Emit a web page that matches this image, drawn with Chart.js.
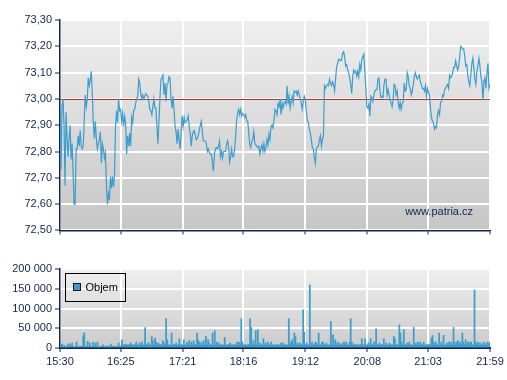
<!DOCTYPE html>
<html><head><meta charset="utf-8">
<script src="https://cdn.jsdelivr.net/npm/chart.js@4.4.1/dist/chart.umd.min.js"></script>
<style>
html,body{margin:0;padding:0;background:#fff;width:507px;height:380px;overflow:hidden}
#top{position:absolute;left:0;top:0}
#bot{position:absolute;left:0;top:245px}
</style></head><body>
<canvas id="top" width="507" height="240"></canvas>
<canvas id="bot" width="507" height="135"></canvas>
<script>
// ---- data ----
const timeLabels = ['15:30','16:25','17:21','18:16','19:12','20:08','21:03','21:59'];
const referencePrice = 73.00;
const priceRange = [72.50, 73.30];
const volumeRange = [0, 200000];
const watermark = 'www.patria.cz';
const volumeLabel = 'Objem';

const price = [
72.96,72.73,72.97,73.00,72.90,72.67,72.95,72.85,72.78,72.85,
72.90,72.77,72.83,72.72,72.60,72.60,72.81,72.81,72.86,72.82,
72.88,72.82,72.81,72.82,72.915,73.015,72.97,73.00,73.08,73.05,
73.07,73.105,73.02,72.91,72.85,72.915,72.85,72.81,72.83,72.845,
72.875,72.755,72.83,72.81,72.775,72.795,72.675,72.60,72.64,72.615,
72.705,72.66,72.705,72.665,72.71,72.895,72.955,72.91,73.00,72.955,
72.96,72.915,72.945,72.895,72.935,72.91,72.79,72.86,72.82,72.87,
72.82,72.93,72.91,72.955,72.96,72.985,73.00,73.01,73.075,73.06,
73.02,73.00,73.015,73.00,73.01,73.02,73.015,73.01,72.99,72.96,
72.955,72.94,72.97,73.00,72.965,72.965,72.895,72.83,72.91,73.00,
73.075,73.08,73.09,73.015,
73.06,72.99,73.055,73.06,73.085,73.08,73.00,72.965,73.01,72.96,
72.895,72.875,72.83,72.885,72.845,72.81,72.875,72.935,72.895,72.93,
72.91,72.915,72.92,72.935,72.895,72.87,72.82,72.86,72.875,72.88,
72.86,72.845,72.85,72.86,72.88,72.90,72.915,72.875,72.84,72.84,
72.84,72.83,72.80,72.81,72.795,72.79,72.79,72.755,72.725,72.79,
72.81,72.815,72.81,72.82,72.84,72.78,72.80,72.775,72.80,72.80,
72.80,72.825,72.84,72.82,72.76,72.78,72.81,72.78,72.78,72.81,
72.86,72.92,72.945,72.96,72.94,72.96,72.935,72.945,72.94,72.93,
72.94,72.915,72.915,72.87,72.825,72.815,72.84,72.845,72.875,72.83,
72.825,72.82,72.815,72.82,72.79,72.81,72.825,72.80,72.83,72.80,
72.815,72.845,72.825,72.865,72.845,72.895,72.90,
72.89,72.92,72.96,72.955,72.94,72.98,72.97,73.00,72.94,72.985,
72.965,72.985,72.99,72.98,73.05,72.98,73.01,72.965,72.99,73.01,
72.985,73.03,73.025,73.03,73.015,73.03,73.015,73.00,72.985,72.96,
72.99,73.01,73.00,72.955,72.92,72.91,72.885,72.87,72.845,72.815,
72.81,72.775,72.755,72.81,72.82,72.82,72.845,72.86,72.82,72.845,
72.86,73.05,73.04,73.05,73.055,73.05,73.075,73.06,73.05,73.065,
73.055,73.03,73.075,73.12,73.135,73.15,73.15,73.145,73.15,73.175,
73.18,73.16,73.125,73.13,73.11,73.10,73.08,73.055,73.02,73.085,
73.11,73.10,73.105,73.085,73.105,73.085,73.13,73.11,73.15,73.16,
73.17,73.105,73.04,72.97,72.965,72.98,72.935,73.01,73.005,72.99,
73.015,73.03,73.035,73.035,73.075,73.08,73.03,73.005,
73.01,73.005,73.055,73.075,73.075,73.015,73.035,73.015,72.995,72.985,
72.97,72.995,73.055,73.05,73.015,73.03,72.99,72.965,72.985,72.96,
72.98,72.99,73.06,73.03,73.035,73.10,73.085,73.05,73.04,73.015,
73.03,73.055,73.085,73.10,73.085,73.075,73.085,73.09,73.065,73.055,
73.04,73.04,73.03,73.05,73.01,73.04,73.025,73.015,72.965,72.93,
72.915,72.91,72.885,72.895,72.89,72.94,72.955,72.94,72.985,72.99,
73.015,73.01,73.035,73.04,73.05,73.055,73.04,73.09,73.08,73.085,
73.10,73.12,73.12,73.145,73.125,73.11,73.125,73.16,73.20,73.195,
73.19,73.19,73.16,73.125,73.13,73.09,73.065,73.05,73.09,73.135,
73.155,73.12,73.075,73.055,73.105,73.125,73.155,73.125,73.085,73.065,
72.995,73.065,73.08,73.04,73.10,73.135,73.04,73.055
];

// one bar per minute, 15:30 .. 21:59
const volume = [
9000,8000,10000,3000,6700,2000,3500,10000,2500,10000,
4000,12600,3000,2000,4000,15000,3000,2500,5000,3000,
4000,31000,38600,3000,5000,16800,3000,12600,2500,4000,
15000,3000,12600,4000,15000,2000,3000,5000,2500,8000,
3000,4500,2000,6000,3500,2500,10000,3000,4000,2500,
5000,3000,4000,12600,3500,5000,21000,8000,7500,9000,
7000,8500,7500,8000,12600,9000,7000,8000,7500,15000,
8000,7500,12600,8500,15000,7000,8000,52000,9000,7500,
14000,8000,7000,29000,18500,8000,25000,15000,7500,12600,
8000,9000,7000,18500,12600,8000,74000,21000,7500,8000,
7000,37800,8000,7500,9000,12600,7000,8000,23500,7500,
8500,7000,21000,8000,7500,15000,8000,18500,7000,15000,
8000,18500,7500,8500,37800,21000,15000,7000,15000,8000,
18500,7500,29400,8000,21000,12600,7000,8500,37800,7500,
43700,8000,15000,7500,12600,8000,7000,8500,7500,26900,
8000,7000,8500,7500,12600,8000,7000,9000,7500,8000,
15000,7500,15000,8000,74000,15000,7000,8500,7500,8000,
7000,9000,74000,52000,8000,18500,7500,43700,8000,46000,
7500,12600,8000,7000,23500,8500,12600,7500,15000,8000,
7000,15000,8500,7500,8000,7000,9000,7500,8000,7000,
12600,8000,12600,7500,8500,7000,8000,74000,7500,15000,
21000,8000,37800,29400,7500,12600,8000,12600,7000,8500,
96600,40300,8000,12600,7500,8000,159600,7000,15000,8500,
7500,15000,12600,8000,37800,7500,8000,15000,15000,7000,
8500,12600,7500,8000,7000,67200,8000,33600,7500,21000,
8000,15000,7000,12600,8500,7500,12600,15000,8000,15000,
7500,8000,15000,74000,15000,7000,10000,8000,7500,8500,
8000,7000,9000,23500,7500,8000,23500,7000,8500,12600,
8000,23500,7500,8000,15000,7000,48700,8500,7500,12600,
8000,7000,9000,23500,7500,12600,8000,7000,12600,8500,
7500,8000,29400,23500,7000,8500,8000,58800,37800,15000,
7500,46200,8000,7000,12600,8500,15000,7500,8000,7000,
52000,8000,12600,7500,15000,8000,15000,7000,8500,15000,
7500,8000,7000,9000,7500,8000,25200,31900,15000,7500,
15000,8000,7000,37800,8500,15000,7500,31900,8000,7000,
12600,8000,15000,7500,15000,8000,52000,15000,7000,15000,
18500,8000,15000,7500,37800,15000,8000,21000,7500,15000,
8000,15000,15000,7000,8500,147000,15000,8000,15000,7500,
12600,8000,7000,15000,8500,12600,7500,15000,8000,15000
];

// ---- helpers ----
const toMin = s => { const [h, m] = s.split(':').map(Number); return h * 60 + m; };
const openMin = toMin(timeLabels[0]);
const tickMinutes = timeLabels.map(t => toMin(t) - openMin);
const sessionLen = tickMinutes[tickMinutes.length - 1];
const fmtPrice = v => v.toFixed(2).replace('.', ',');
const fmtVol = v => String(Math.round(v)).replace(/\B(?=(\d{3})+(?!\d))/g, ' ');

const NAVY = '#13244f';
const BLUE = '#3d9dcc';
const FONT = "'Liberation Sans', Arial, sans-serif";
Chart.defaults.font.family = FONT;
Chart.defaults.font.size = 11;
Chart.defaults.color = NAVY;

const bgPlugin = {
  id: 'bg',
  beforeDraw(chart, args, opts) {
    const { ctx, chartArea: a } = chart;
    const g = ctx.createLinearGradient(0, a.top, 0, a.bottom);
    g.addColorStop(0, opts.top); g.addColorStop(1, opts.bottom);
    ctx.save(); ctx.fillStyle = g;
    ctx.fillRect(a.left, a.top, a.right - a.left, a.bottom - a.top);
    ctx.restore();
  }
};
const refPlugin = {
  id: 'ref',
  beforeDatasetsDraw(chart) {
    const { ctx, chartArea: a } = chart;
    const y = Math.round(chart.scales.y.getPixelForValue(referencePrice)) + 0.5;
    ctx.save(); ctx.strokeStyle = '#b8302c'; ctx.lineWidth = 1;
    ctx.beginPath(); ctx.moveTo(a.left, y); ctx.lineTo(a.right, y); ctx.stroke();
    ctx.restore();
  }
};
const markPlugin = {
  id: 'mark',
  afterDraw(chart) {
    const { ctx, chartArea: a } = chart;
    ctx.save(); ctx.fillStyle = NAVY; ctx.font = '11px ' + FONT;
    ctx.textAlign = 'right'; ctx.textBaseline = 'middle';
    ctx.fillText(watermark, a.right - 17, a.bottom - 18);
    ctx.restore();
  }
};
const legendPlugin = {
  id: 'boxLegend',
  afterDraw(chart) {
    const { ctx, chartArea: a } = chart;
    const x = a.left + 5.5, y = a.top + 4.5, w = 60, h = 28;
    ctx.save();
    ctx.strokeStyle = '#000'; ctx.lineWidth = 1;
    ctx.strokeRect(x, y, w, h);
    ctx.fillStyle = chart.data.datasets[0].backgroundColor;
    ctx.fillRect(x + 8, y + 10, 7, 7);
    ctx.strokeStyle = '#1a1a1a';
    ctx.strokeRect(x + 8, y + 10, 7, 7);
    ctx.fillStyle = '#000'; ctx.font = '11px ' + FONT;
    ctx.textAlign = 'left'; ctx.textBaseline = 'middle';
    ctx.fillText(chart.data.datasets[0].label, x + 20, y + 14);
    ctx.restore();
  }
};

function xScale(showLabels, borderW, bottomH) {
  return {
    type: 'linear', min: 0, max: sessionLen, offset: false,
    afterBuildTicks: s => { s.ticks = tickMinutes.map(v => ({ value: v })); },
    afterFit: s => { s.height = bottomH; },
    ticks: { display: showLabels, autoSkip: false, maxRotation: 0, padding: 3,
             callback: v => timeLabels[tickMinutes.indexOf(v)] },
    grid: { offset: false, color: '#ffffff', lineWidth: 2, drawTicks: true, tickLength: 4,
            tickColor: NAVY, tickWidth: 1 },
    border: { color: NAVY, width: borderW }
  };
}
function yScale(range, step, fmt) {
  return {
    min: range[0], max: range[1],
    afterFit: s => { s.width = 60; },
    ticks: { stepSize: step, callback: fmt, padding: 3 },
    grid: { color: '#ffffff', lineWidth: 2, drawTicks: true, tickLength: 5,
            tickColor: NAVY, tickWidth: 1 },
    border: { color: NAVY, width: 1.5 }
  };
}

new Chart(document.getElementById('top'), {
  type: 'line',
  data: { datasets: [{
    label: 'Cena',
    data: price.map((v, i) => ({ x: i * sessionLen / (price.length - 1), y: v })),
    borderColor: BLUE, borderWidth: 1.2, pointRadius: 0, tension: 0, fill: false
  }]},
  options: {
    responsive: false, animation: false, events: [],
    layout: { padding: { top: 20, right: 17, left: 0, bottom: 0 } },
    plugins: { legend: { display: false }, tooltip: { enabled: false },
               bg: { top: '#efefef', bottom: '#c6c6c6' } },
    scales: { x: xScale(false, 1.5, 9), y: yScale(priceRange, 0.1, fmtPrice) }
  },
  plugins: [bgPlugin, refPlugin, markPlugin]
});

new Chart(document.getElementById('bot'), {
  type: 'bar',
  data: { datasets: [{
    label: volumeLabel,
    data: volume.map((v, i) => ({ x: i, y: v })),
    backgroundColor: BLUE, borderWidth: 0,
    barPercentage: 1, categoryPercentage: 1
  }]},
  options: {
    responsive: false, animation: false, events: [],
    layout: { padding: { top: 24, right: 17, left: 0, bottom: 0 } },
    plugins: { legend: { display: false }, tooltip: { enabled: false },
               bg: { top: '#efefef', bottom: '#cbcbcb' } },
    scales: { x: xScale(true, 2, 32), y: yScale(volumeRange, 50000, fmtVol) }
  },
  plugins: [bgPlugin, legendPlugin]
});
</script>
</body></html>
